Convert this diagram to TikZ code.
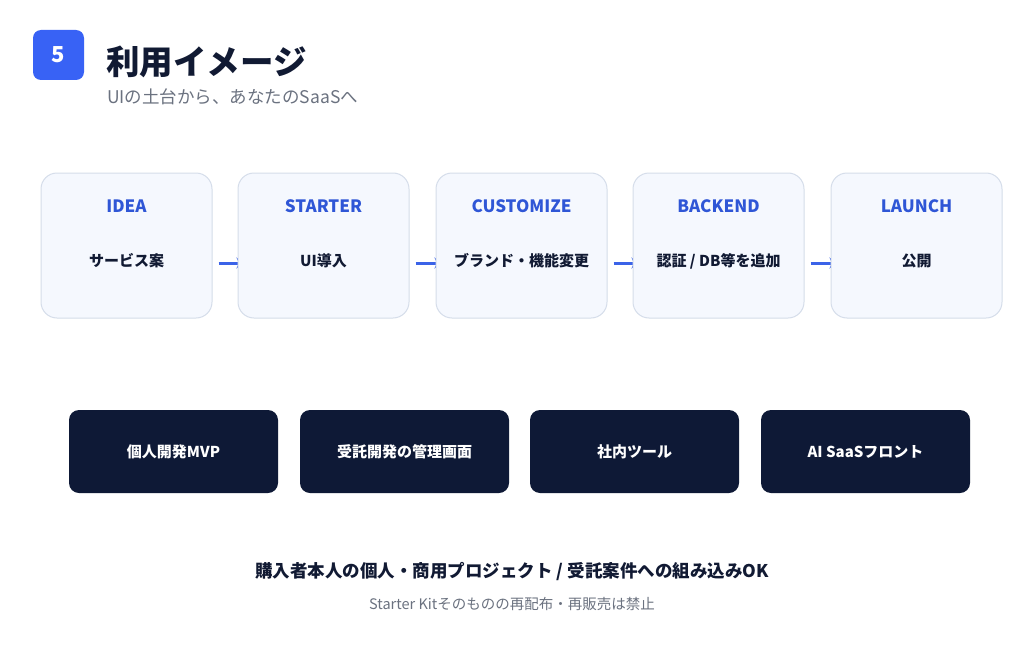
\documentclass[tikz,border=0pt]{standalone}
\usepackage{fontspec}
\setmainfont{Noto Sans CJK JP}
\usetikzlibrary{arrows.meta}
\definecolor{badge}{HTML}{3862F5}
\definecolor{navy}{HTML}{111A33}
\definecolor{subgray}{HTML}{6B7280}
\definecolor{lblue}{HTML}{2F56D6}
\definecolor{boxfill}{HTML}{F5F8FE}
\definecolor{boxline}{HTML}{D5DDEA}
\definecolor{darkbox}{HTML}{0E1936}
\definecolor{arrowblue}{HTML}{3B63E8}
\pgfdeclarelayer{paper}
\pgfdeclarelayer{bg}
\pgfsetlayers{paper,bg,main}
\tikzset{
  stage/.style={draw=boxline, line width=1pt, fill=boxfill, rounded corners=16pt,
    minimum width=171pt, minimum height=145pt, inner sep=0pt},
  stagelbl/.style={text=lblue, font=\fontsize{17}{20}\selectfont\bfseries, inner sep=0pt},
  stagebody/.style={text=navy, font=\fontsize{15}{18}\selectfont\bfseries, inner sep=0pt},
  usecase/.style={fill=darkbox, rounded corners=10pt, minimum width=209pt, minimum height=83pt,
    inner sep=0pt, text=white, font=\fontsize{15}{18}\selectfont\bfseries},
  flow/.style={draw=arrowblue, line width=3pt, -{Stealth[length=7pt,width=11pt]}},
}
\begin{document}
\begin{tikzpicture}[x=1pt,y=-1pt]
\begin{pgfonlayer}{paper}
\fill[white] (0,0) rectangle (1024,658);
\end{pgfonlayer}
\useasboundingbox (0,0) rectangle (1024,658);
% header
\node[fill=badge, rounded corners=8pt, minimum width=51pt, minimum height=50pt, inner sep=0pt,
  text=white, font=\fontsize{22}{24}\selectfont\bfseries] (badge) at (58.5,55) {5};
\node[anchor=west, inner sep=0pt, text=navy, font=\fontsize{33.5}{36}\selectfont\bfseries] (title) at (106,62) {利用イメージ};
\node[anchor=west, inner sep=0pt, text=subgray, font=\fontsize{17.5}{20}\selectfont] (subtitle) at (107,97) {UIの土台から、あなたのSaaSへ};
% stages
\foreach \i/\x/\lbl/\body in {1/126.5/IDEA/{サービス案}, 2/323.5/STARTER/{UI導入}, 3/521.5/CUSTOMIZE/{ブランド・機能変更}, 4/718.5/BACKEND/{認証 / DB等を追加}, 5/916.5/LAUNCH/{公開}}{
  \node[stage] (s\i) at (\x,245.5) {};
  \node[stagelbl] (l\i) at (\x,206) {\lbl};
  \node[stagebody] (b\i) at (\x,261) {\body};
}
\begin{pgfonlayer}{bg}
\foreach \a/\b in {1/2,2/3,3/4,4/5}{
  \coordinate (fa\a) at ([xshift=6pt,yshift=-17.5pt]s\a.east);
  \coordinate (fb\a) at ([xshift=6pt,yshift=-17.5pt]s\b.west);
  \draw[flow] (fa\a) -- (fb\a);
}
\end{pgfonlayer}
% use cases
\node[usecase] (u1) at (173.5,451.5) {個人開発MVP};
\node[usecase] (u2) at (404.5,451.5) {受託開発の管理画面};
\node[usecase] (u3) at (634.5,451.5) {社内ツール};
\node[usecase] (u4) at (865.5,451.5) {AI SaaSフロント};
% footer
\node[inner sep=0pt, text=navy, font=\fontsize{17.5}{20}\selectfont\bfseries] (note1) at (512,572) {購入者本人の個人・商用プロジェクト / 受託案件への組み込みOK};
\node[inner sep=0pt, text=subgray, font=\fontsize{14.5}{17}\selectfont] (note2) at (512,604) {Starter Kitそのものの再配布・再販売は禁止};
\end{tikzpicture}
\end{document}
